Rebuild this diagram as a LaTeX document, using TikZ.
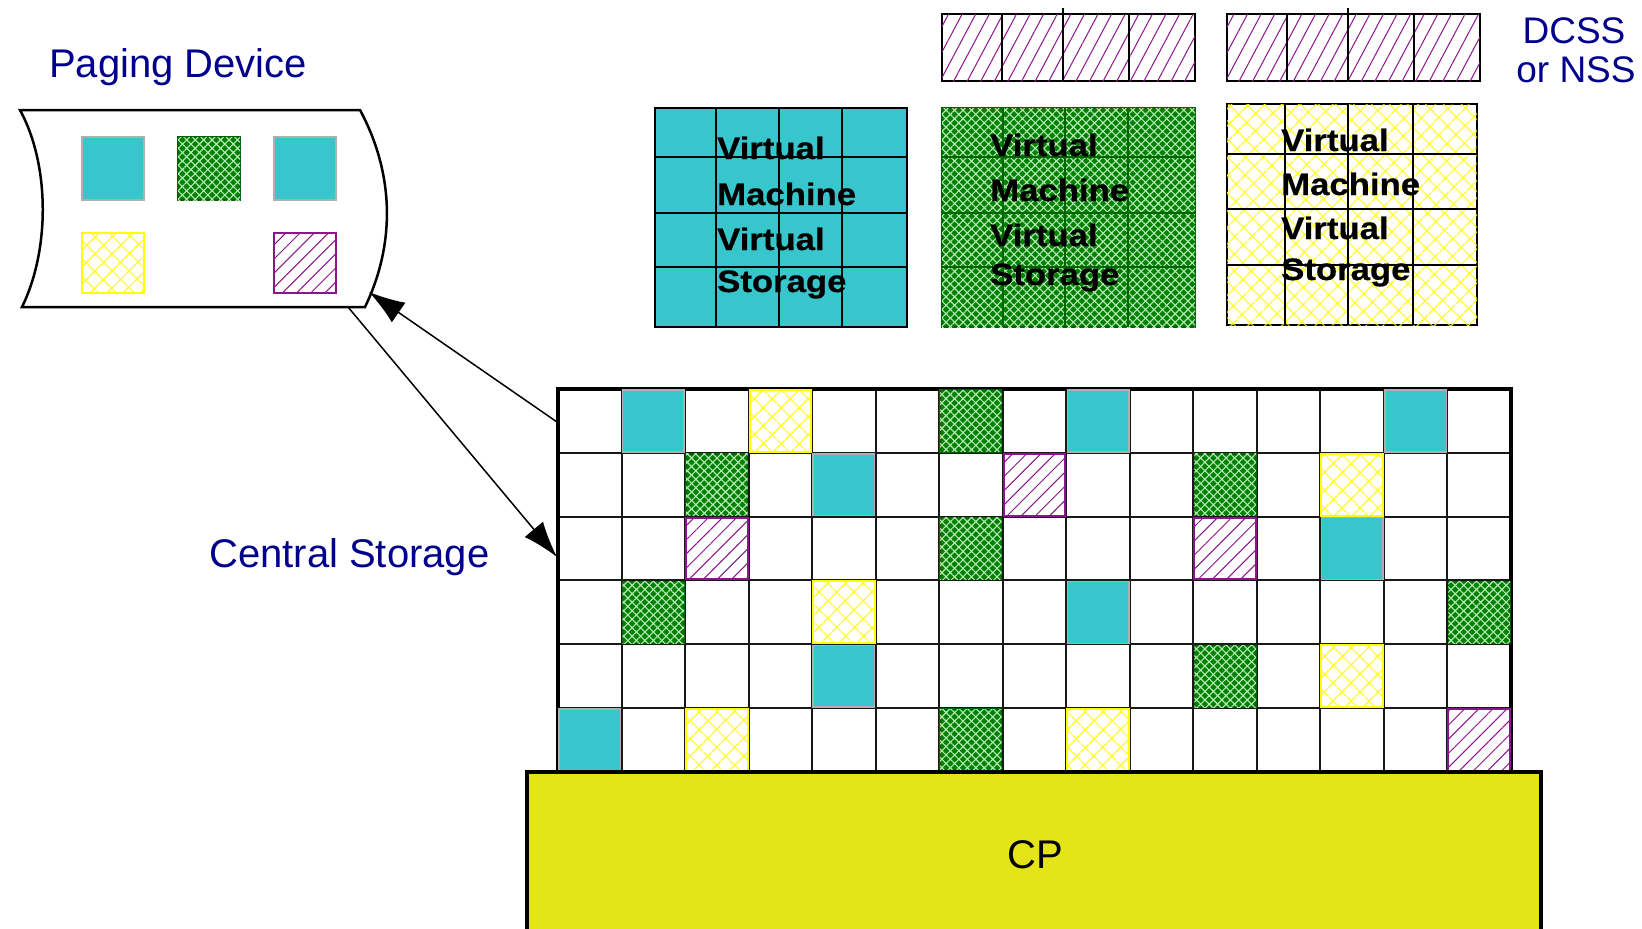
\documentclass[tikz,border=0pt]{standalone}
\usepackage{fontspec}
\setmainfont{Liberation Sans}
\newfontfamily\vmfont{Liberation Sans}[FakeStretch=1.12,FakeBold=0.6]
\usetikzlibrary{patterns.meta,arrows.meta}
\definecolor{lblue}{RGB}{0,0,140}
\definecolor{vmcyan}{RGB}{55,198,204}
\definecolor{vmgreen}{RGB}{0,130,0}
\definecolor{dkgreen}{RGB}{0,100,0}
\definecolor{hatchgreen}{RGB}{185,232,185}
\definecolor{vmyellow}{RGB}{255,255,0}
\definecolor{vmpurple}{RGB}{140,20,140}
\definecolor{cpyellow}{RGB}{228,228,24}
\definecolor{cyanedge}{RGB}{175,175,175}
\tikzset{
  cyanbox/.style={fill=vmcyan, draw=cyanedge, line width=1.5pt},
  greenbox/.style={fill=vmgreen, draw=dkgreen, line width=1.5pt,
    postaction={pattern={Hatch[angle=45,distance=6pt,line width=1.1pt]}, pattern color=hatchgreen}},
  yellowbox/.style={fill=white, draw=vmyellow, line width=2pt,
    postaction={pattern={Hatch[angle=45,distance=13pt,line width=1.4pt]}, pattern color=vmyellow}},
  purplebox/.style={fill=white, draw=vmpurple, line width=2pt,
    postaction={pattern={Lines[angle=45,distance=10pt,line width=1pt]}, pattern color=vmpurple}},
  gridline/.style={line width=2pt, draw={rgb,255:red,25;green,25;blue,25}},
  lbl/.style={inner sep=0pt, text=lblue, font=\fontsize{40}{48}\selectfont},
  lblsmall/.style={inner sep=0pt, text=lblue, font=\fontsize{37}{44}\selectfont},
  vmtext/.style={inner sep=0pt, anchor=base west, text=black, font=\vmfont\bfseries\fontsize{31}{31}\selectfont},
  arr/.style={line width=1.5pt, -{Latex[length=36pt,width=24pt]}},
}
\begin{document}
\begin{tikzpicture}[x=1pt,y=-1pt]
\useasboundingbox (0,0) rectangle (1642,929);

% ---------- Paging device ----------
\draw[line width=2.5pt, fill=white] (20,110) -- (360,110)
  .. controls (395,175) and (395,245) .. (365,307) -- (22,307)
  .. controls (50,250) and (50,165) .. (20,110) -- cycle;
\draw[cyanbox] (82,137) rectangle (144,200);
\draw[greenbox] (178,137) rectangle (240,200);
\draw[cyanbox] (274,137) rectangle (336,200);
\draw[yellowbox] (82,233) rectangle (144,293);
\draw[purplebox] (274,233) rectangle (336,293);
\node[lbl, anchor=base west] (pd) at (49,77) {Paging Device};

% ---------- DCSS boxes ----------
\draw[fill=white, line width=2pt, postaction={pattern={Lines[angle=62,distance=12pt,line width=1pt]}, pattern color=vmpurple}] (942,14) rectangle (1195,81);
\foreach \x in {1002,1129} \draw[line width=1.5pt] (\x,14) -- (\x,81);
\draw[line width=1.5pt] (1063,8) -- (1063,81);
\draw[fill=white, line width=2pt, postaction={pattern={Lines[angle=62,distance=12pt,line width=1pt]}, pattern color=vmpurple}] (1227,14) rectangle (1480,81);
\foreach \x in {1287,1414} \draw[line width=1.5pt] (\x,14) -- (\x,81);
\draw[line width=1.5pt] (1348,8) -- (1348,81);
\node[lblsmall, anchor=base] (dcss) at (1574,43) {DCSS};
\node[lblsmall, anchor=base] (nss) at (1576,82) {or NSS};

% ---------- Virtual machine boxes ----------
\draw[fill=vmcyan, line width=2pt] (655,108) rectangle (907,327);
\foreach \x in {716,779,842} \draw[line width=1.5pt] (\x,108) -- (\x,327);
\foreach \y in {157,213,267} \draw[line width=1.5pt] (655,\y) -- (907,\y);
\node[vmtext] (c1) at (717,159) {Virtual};
\node[vmtext] (c2) at (717,205) {Machine};
\node[vmtext] (c3) at (717,250) {Virtual};
\node[vmtext] (c4) at (717,292) {Storage};

\draw[greenbox, line width=2pt] (942,108) rectangle (1195,327);
\foreach \x in {1003,1065,1128} \draw[line width=1.2pt, draw=dkgreen] (\x,108) -- (\x,327);
\foreach \y in {157,213,267} \draw[line width=1.2pt, draw=dkgreen] (942,\y) -- (1195,\y);
\node[vmtext] (g1) at (990,156) {Virtual};
\node[vmtext] (g2) at (990,201) {Machine};
\node[vmtext] (g3) at (990,246) {Virtual};
\node[vmtext] (g4) at (990,285) {Storage};

\draw[fill=white, line width=2pt, postaction={pattern={Hatch[angle=45,distance=13pt,line width=1.4pt]}, pattern color=vmyellow}] (1227,104) rectangle (1477,325);
\foreach \x in {1285,1348,1413} \draw[line width=1.5pt] (\x,104) -- (\x,325);
\foreach \y in {154,209,265} \draw[line width=1.5pt] (1227,\y) -- (1477,\y);
\node[vmtext] (y1) at (1281,151) {Virtual};
\node[vmtext] (y2) at (1281,195) {Machine};
\node[vmtext] (y3) at (1281,239) {Virtual};
\node[vmtext] (y4) at (1281,280) {Storage};

% ---------- Central storage grid ----------
\def\gx{558}\def\gy{389}\def\cellw{63.53}\def\cellh{63.83}
\fill[white] (558,389) rectangle (1511,772);
\foreach \i in {1,...,14} \draw[gridline] ({\gx+\i*\cellw},\gy) -- ({\gx+\i*\cellw},772);
\foreach \j in {1,...,5} \draw[gridline] (\gx,{\gy+\j*\cellh}) -- (1511,{\gy+\j*\cellh});
\draw[line width=3.5pt] (558,772) -- (558,389) -- (1511,389) -- (1511,772);

\foreach \c/\r in {1/0,8/0,13/0,4/1,12/2,8/3,4/4,0/5}
  \draw[cyanbox] ({\gx+\c*\cellw+1},{\gy+\r*\cellh+1}) rectangle ++({\cellw-2},{\cellh-2});
\foreach \c/\r in {3/0,12/1,4/3,12/4,2/5,8/5}
  \draw[yellowbox] ({\gx+\c*\cellw+1},{\gy+\r*\cellh+1}) rectangle ++({\cellw-2},{\cellh-2});
\foreach \c/\r in {6/0,2/1,10/1,6/2,1/3,14/3,10/4,6/5}
  \draw[greenbox] ({\gx+\c*\cellw+1},{\gy+\r*\cellh+1}) rectangle ++({\cellw-2},{\cellh-2});
\foreach \c/\r in {7/1,2/2,10/2,14/5}
  \draw[purplebox] ({\gx+\c*\cellw+1},{\gy+\r*\cellh+1}) rectangle ++({\cellw-2},{\cellh-2});

\node[lbl, anchor=base west] (cs) at (209,567) {Central Storage};

% ---------- CP ----------
\fill[cpyellow] (527,772) rectangle (1541,935);
\draw[line width=4pt] (527,935) -- (527,772) -- (1541,772) -- (1541,935);
\node[inner sep=0pt, font=\fontsize{40}{48}\selectfont, anchor=base] (cp) at (1035,868) {CP};

% ---------- Arrows ----------
\coordinate (pdIn) at (369,292);
\coordinate (pdOut) at (348,307);
\coordinate (csOut) at (557,422);
\coordinate (csIn) at (557,557);
\draw[arr] (csOut) -- (pdIn);
\draw[arr] (pdOut) -- (csIn);
\end{tikzpicture}
\end{document}
